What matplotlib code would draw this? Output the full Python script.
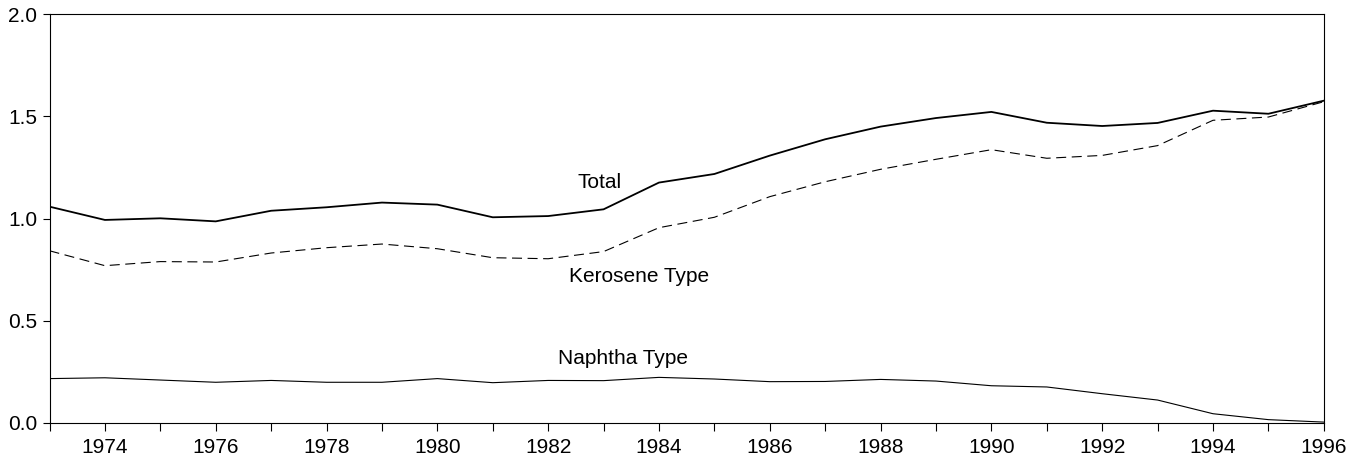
import matplotlib
matplotlib.use('Agg')
import matplotlib.pyplot as plt
from matplotlib.ticker import MultipleLocator, FormatStrFormatter

years = list(range(1973, 1997))

total = [1.058, 0.993, 1.001, 0.986, 1.038, 1.055, 1.078, 1.068,
         1.006, 1.012, 1.045, 1.176, 1.218, 1.308, 1.388, 1.450,
         1.492, 1.522, 1.469, 1.453, 1.468, 1.528, 1.513, 1.577]
kerosene = [0.842, 0.769, 0.789, 0.787, 0.831, 0.857, 0.875, 0.852,
            0.808, 0.803, 0.838, 0.955, 1.006, 1.107, 1.180, 1.241,
            1.290, 1.337, 1.295, 1.309, 1.357, 1.481, 1.497, 1.572]
naphtha = [0.216, 0.220, 0.209, 0.198, 0.207, 0.198, 0.198, 0.216,
           0.196, 0.207, 0.206, 0.222, 0.214, 0.201, 0.202, 0.212,
           0.204, 0.181, 0.175, 0.142, 0.111, 0.044, 0.015, 0.003]

plt.rcParams['font.family'] = ['Liberation Sans', 'DejaVu Sans']

fig = plt.figure(figsize=(13.6, 4.66), dpi=100)
ax = fig.add_axes([0.0364, 0.0929, 0.937, 0.8764])

ax.plot(years, total, color='black', lw=1.3)
ax.plot(years, kerosene, color='black', lw=0.8, dashes=(9, 5))
ax.plot(years, naphtha, color='black', lw=0.8)

ax.text(1982.92, 1.174, 'Total', fontsize=15, ha='center', va='center')
ax.text(1983.64, 0.714, 'Kerosene Type', fontsize=15, ha='center', va='center')
ax.text(1983.35, 0.312, 'Naphtha Type', fontsize=15, ha='center', va='center')

ax.set_xlim(1973, 1996)
ax.set_ylim(0, 2)
ax.xaxis.set_minor_locator(MultipleLocator(1))
ax.set_xticks(range(1974, 1997, 2))
ax.yaxis.set_major_locator(MultipleLocator(0.5))
ax.yaxis.set_major_formatter(FormatStrFormatter('%.1f'))
ax.tick_params(axis='both', which='both', direction='out', labelsize=15,
               width=0.8, color='black')
ax.tick_params(axis='x', which='major', length=6, pad=5)
ax.tick_params(axis='x', which='minor', length=6)
ax.tick_params(axis='y', length=5, pad=4)
for s in ax.spines.values():
    s.set_linewidth(0.8)

fig.savefig('out.png', dpi=100)
